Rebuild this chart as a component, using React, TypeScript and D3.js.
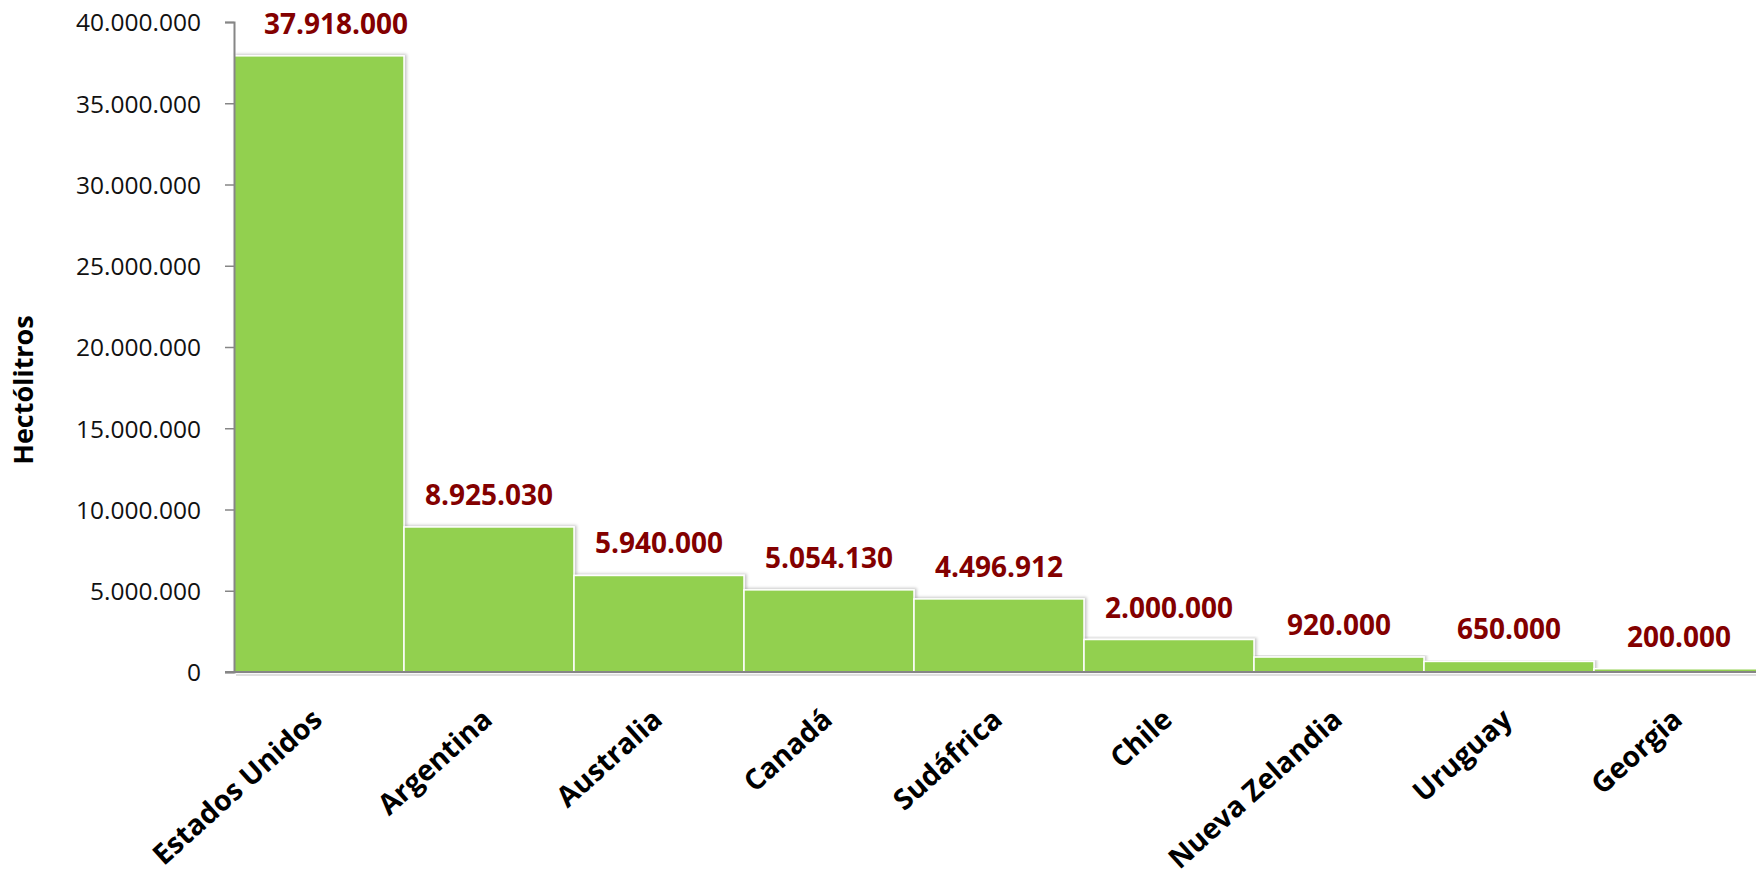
import { useEffect, useRef } from "react";
import * as d3 from "d3";

const countries = ["Estados Unidos", "Argentina", "Australia", "Canadá", "Sudáfrica", "Chile", "Nueva Zelandia", "Uruguay", "Georgia"];
const volumes = [37918000, 8925030, 5940000, 5054130, 4496912, 2000000, 920000, 650000, 200000];
const yTicks = [0, 5000000, 10000000, 15000000, 20000000, 25000000, 30000000, 35000000, 40000000];
const yTitle = "Hectólitros";

const esLocale = d3.formatLocale({ decimal: ",", thousands: ".", grouping: [3], currency: ["", ""] });
const fmt = esLocale.format(",d");

export default function App() {
  const svgRef = useRef<SVGSVGElement>(null);

  useEffect(() => {
    if (!svgRef.current) return;
    const svg = d3.select(svgRef.current);
    svg.selectAll("*").remove();

    const left = 234;
    const top = 22;
    const bottom = 672;
    const right = 1764;

    const x = d3.scaleBand<string>().domain(countries).range([left, right]).padding(0);
    const y = d3.scaleLinear().domain([0, 40000000]).range([bottom, top]);

    // shadow for bars
    const defs = svg.append("defs");
    const filter = defs.append("filter").attr("id", "bar-shadow")
      .attr("x", "-10%").attr("y", "-10%").attr("width", "130%").attr("height", "130%");
    filter.append("feDropShadow")
      .attr("dx", 2).attr("dy", -1).attr("stdDeviation", 1.5)
      .attr("flood-color", "#000").attr("flood-opacity", 0.22);

    // bars
    svg.append("g")
      .selectAll("rect")
      .data(volumes)
      .enter()
      .append("rect")
      .attr("x", (_, i) => x(countries[i]) as number)
      .attr("y", d => y(d))
      .attr("width", x.bandwidth())
      .attr("height", d => bottom - y(d))
      .attr("fill", "#92D050")
      .attr("stroke", "#fff")
      .attr("stroke-width", 1.5)
      .attr("filter", "url(#bar-shadow)");

    // axis shadow
    svg.append("line")
      .attr("x1", left + 2).attr("x2", right)
      .attr("y1", bottom + 3).attr("y2", bottom + 3)
      .attr("stroke", "#d4d4d4").attr("stroke-width", 1.5);

    // Y axis
    svg.append("g")
      .attr("transform", `translate(${left},0)`)
      .call(d3.axisLeft(y).tickValues(yTicks).tickSize(9).tickPadding(24).tickFormat(d => fmt(d as number)))
      .call(g => g.select(".domain").attr("stroke", "#868686").attr("stroke-width", 2))
      .call(g => g.selectAll(".tick line").attr("stroke", "#868686").attr("stroke-width", 1.5))
      .call(g => g.selectAll(".tick text")
        .attr("fill", "#111")
        .attr("font-family", "'Open Sans', sans-serif")
        .attr("font-size", "24.5px")
        .attr("dy", "0.36em"));

    // X axis line
    svg.append("line")
      .attr("x1", left - 9).attr("x2", right)
      .attr("y1", bottom).attr("y2", bottom)
      .attr("stroke", "#868686").attr("stroke-width", 2);

    // Value labels
    const firstLabelShift = 17;
    svg.append("g")
      .selectAll("text")
      .data(volumes)
      .enter()
      .append("text")
      .attr("x", (_, i) => (x(countries[i]) as number) + x.bandwidth() / 2 + (i === 0 ? firstLabelShift : 0))
      .attr("y", d => y(d) - 22)
      .attr("text-anchor", "middle")
      .attr("fill", "#830000")
      .attr("font-family", "'Open Sans', sans-serif")
      .attr("font-weight", "bold")
      .attr("font-size", "28px")
      .text(d => fmt(d));

    // Category labels
    svg.append("g")
      .selectAll("text")
      .data(countries)
      .enter()
      .append("text")
      .attr("transform", d => `translate(${(x(d) as number) + x.bandwidth() / 2 + 5},${722}) rotate(-42)`)
      .attr("text-anchor", "end")
      .attr("fill", "#000")
      .attr("font-family", "'Open Sans', sans-serif")
      .attr("font-weight", "bold")
      .attr("font-size", "28.5px")
      .text(d => d);

    // Y title
    svg.append("text")
      .attr("transform", `translate(33,390) rotate(-90)`)
      .attr("text-anchor", "middle")
      .attr("fill", "#000")
      .attr("font-family", "'Open Sans', sans-serif")
      .attr("font-weight", "bold")
      .attr("font-size", "27px")
      .text(yTitle);
  }, []);

  return (
    <div style={{ position: "fixed", left: 0, top: 0, width: 1756, height: 876, background: "#fff" }}>
      <svg ref={svgRef} width={1756} height={876} />
    </div>
  );
}
